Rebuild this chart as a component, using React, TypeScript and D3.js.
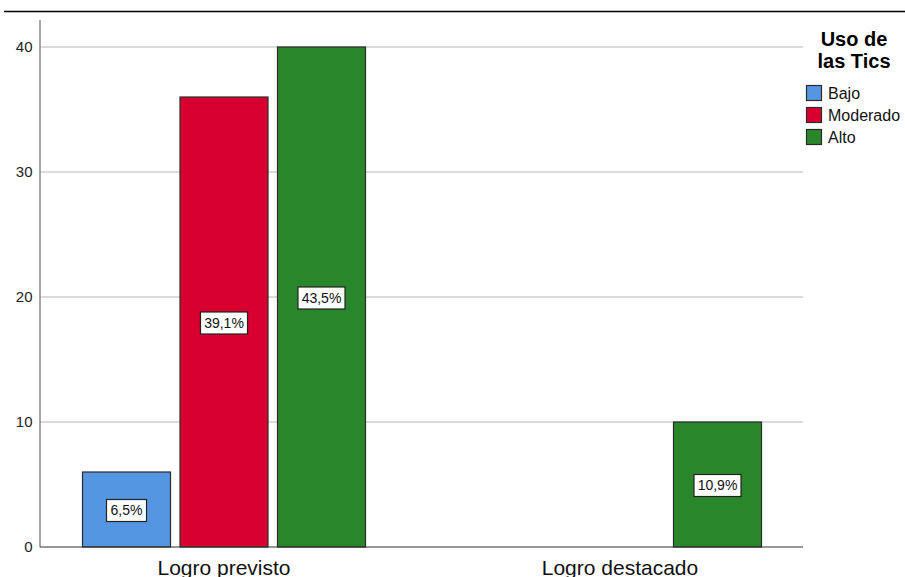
import React from "react";
import * as d3 from "d3";

const categories = ["Logro previsto", "Logro destacado"];
const seriesNames = ["Bajo", "Moderado", "Alto"];
const bajoCounts = [6, 0];
const moderadoCounts = [36, 0];
const altoCounts = [40, 10];
const yTicks = [0, 10, 20, 30, 40];
const legendTitle = ["Uso de", "las Tics"];
const seriesColors = ["#5596E2", "#D7002F", "#2A862A"];

const seriesValues = [bajoCounts, moderadoCounts, altoCounts];
const total = d3.sum(seriesValues.flat());

const FONT = "'Liberation Sans', Arial, Helvetica, sans-serif";

export default function App() {
  const W = 905;
  const H = 577;
  const plotLeft = 40;
  const plotRight = 803;

  const y = d3.scaleLinear().domain([0, 42.16]).range([547, 20]);
  const x0 = d3.scaleBand<string>().domain(categories).range([26, 818]).padding(0);
  const x1 = d3
    .scaleBand<string>()
    .domain(seriesNames)
    .range([0, x0.bandwidth()])
    .paddingInner(0.0974)
    .paddingOuter(0.5795);

  const bars: { key: string; x: number; y: number; w: number; h: number; color: string; label: string }[] = [];
  categories.forEach((cat, ci) => {
    seriesNames.forEach((s, si) => {
      const v = seriesValues[si][ci];
      if (!v) return;
      const pct = ((v / total) * 100).toFixed(1).replace(".", ",") + "%";
      bars.push({
        key: cat + s,
        x: (x0(cat) as number) + (x1(s) as number),
        y: y(v),
        w: x1.bandwidth(),
        h: y(0) - y(v),
        color: seriesColors[si],
        label: pct,
      });
    });
  });

  return (
    <svg
      width={W}
      height={H}
      style={{ position: "absolute", left: 0, top: 0, background: "#fff" }}
      fontFamily={FONT}
    >
      <rect x={0} y={0} width={W} height={H} fill="#fff" />
      {/* top rule */}
      <line x1={4} x2={W} y1={11.5} y2={11.5} stroke="#000" strokeWidth={1.3} />

      {/* gridlines */}
      {yTicks.filter((t) => t > 0).map((t) => (
        <line
          key={"g" + t}
          x1={plotLeft}
          x2={plotRight}
          y1={y(t)}
          y2={y(t)}
          stroke="#CFCFCF"
          strokeWidth={1.5}
        />
      ))}

      {/* y tick labels */}
      {yTicks.map((t) => (
        <text
          key={"t" + t}
          x={32.5}
          y={y(t) + 1}
          textAnchor="end"
          dominantBaseline="middle"
          fontSize={15}
          fill="#222"
        >
          {t}
        </text>
      ))}

      {/* bars */}
      {bars.map((b) => (
        <rect
          key={b.key}
          x={b.x}
          y={b.y}
          width={b.w}
          height={b.h}
          fill={b.color}
          stroke="#2b2b2b"
          strokeWidth={1.2}
        />
      ))}

      {/* axes */}
      <line x1={plotLeft} x2={plotLeft} y1={20} y2={y(0)} stroke="#8a8a8a" strokeWidth={1.5} />
      <line x1={plotLeft} x2={plotRight} y1={y(0)} y2={y(0)} stroke="#333" strokeWidth={1.2} />

      {/* data labels */}
      {bars.map((b) => {
        const cx = b.x + b.w / 2;
        const cy = b.y + b.h / 2 + 1;
        const bw = b.label.length > 4 ? 47 : 40;
        const bh = 22;
        return (
          <g key={"l" + b.key}>
            <rect
              x={cx - bw / 2}
              y={cy - bh / 2}
              width={bw}
              height={bh}
              fill="#fff"
              stroke="#222"
              strokeWidth={1.2}
            />
            <text
              x={cx}
              y={cy + 1}
              textAnchor="middle"
              dominantBaseline="middle"
              fontSize={14}
              fill="#111"
            >
              {b.label}
            </text>
          </g>
        );
      })}

      {/* category labels */}
      {categories.map((c) => (
        <text
          key={"c" + c}
          x={(x0(c) as number) + x0.bandwidth() / 2}
          y={575}
          textAnchor="middle"
          fontSize={21}
          fill="#111"
        >
          {c}
        </text>
      ))}

      {/* legend */}
      {legendTitle.map((line, i) => (
        <text
          key={"lt" + i}
          x={854}
          y={46 + i * 22}
          textAnchor="middle"
          fontSize={20}
          fontWeight="bold"
          fill="#000"
        >
          {line}
        </text>
      ))}
      {seriesNames.map((s, i) => (
        <g key={"leg" + s}>
          <rect
            x={806.5}
            y={85.5 + i * 22}
            width={15}
            height={15}
            fill={seriesColors[i]}
            stroke="#2b2b2b"
            strokeWidth={1.2}
          />
          <text x={828} y={99 + i * 22} fontSize={16} fill="#111">
            {s}
          </text>
        </g>
      ))}
    </svg>
  );
}
